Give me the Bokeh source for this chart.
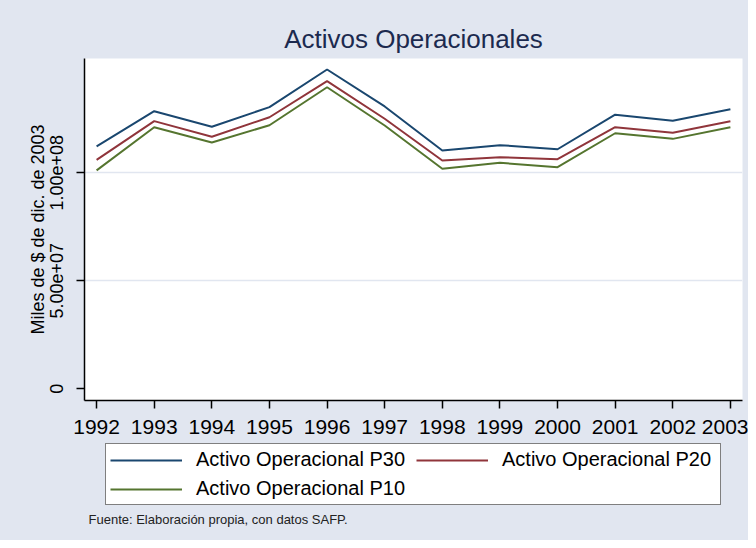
from bokeh.plotting import figure
from bokeh.models import Range1d, FixedTicker, Legend, LegendItem, Label
from bokeh.layouts import column
from bokeh.embed import file_html
from bokeh.resources import INLINE

# ---- data (values in pesos) ----
years = [1992, 1993, 1994, 1995, 1996, 1997, 1998, 1999, 2000, 2001, 2002, 2003]
p30 = [112.2e6, 128.5e6, 121.3e6, 130.4e6, 147.8e6, 130.7e6, 110.3e6, 112.8e6, 110.9e6, 126.9e6, 124.1e6, 129.4e6]
p20 = [106.0e6, 123.9e6, 116.7e6, 125.7e6, 142.4e6, 125.0e6, 105.7e6, 107.2e6, 106.3e6, 121.1e6, 118.5e6, 123.9e6]
p10 = [101.1e6, 121.1e6, 114.0e6, 122.0e6, 139.6e6, 121.9e6, 101.9e6, 104.6e6, 102.6e6, 118.3e6, 115.7e6, 121.1e6]
series_names = ["Activo Operacional P30", "Activo Operacional P20", "Activo Operacional P10"]
y_tick_values = [0, 50000000, 100000000]
y_tick_labels = ["0", "5.00e+07", "1.00e+08"]
title_text = "Activos Operacionales"
y_label = "Miles de $ de dic. de 2003"
note_text = "Fuente: Elaboración propia, con datos SAFP."

colors = ["#1a476f", "#90353b", "#55752f"]
BG = "#e1e6f0"
FONT = "Liberation Sans"

LEFT, FW, RIGHT = 84, 658, 6
TOP, FH, BOTTOM = 58, 342, 43

# ---------------- main chart ----------------
p = figure(frame_width=FW, frame_height=FH, output_backend="svg", toolbar_location=None,
           x_range=Range1d(1991.79, 2003.21), y_range=Range1d(-5.4e6, 152.9e6),
           min_border_left=LEFT, min_border_right=RIGHT, min_border_top=TOP, min_border_bottom=BOTTOM)
p.background_fill_color = "white"
p.border_fill_color = BG
p.outline_line_color = None

p.title.text = title_text
p.title.align = "center"
p.title.text_font = FONT
p.title.text_font_size = "26px"
p.title.text_font_style = "normal"
p.title.text_color = "#1c2a4f"
p.title.standoff = 10

for vals, c in zip([p30, p20, p10], colors):
    p.line(years, vals, line_color=c, line_width=2)

xa = p.xaxis[0]
xa.ticker = FixedTicker(ticks=years)
xa.major_label_text_font = FONT
xa.major_label_text_font_size = "21px"
xa.major_label_text_color = "black"
xa.major_tick_out = 8
xa.major_tick_in = 0
xa.major_tick_line_width = 1.5
xa.minor_tick_line_color = None
xa.axis_line_width = 1.5
xa.major_label_standoff = 11

ya = p.yaxis[0]
ya.ticker = FixedTicker(ticks=y_tick_values)
ya.major_label_overrides = {v: s for v, s in zip(y_tick_values, y_tick_labels)}
ya.major_label_orientation = "vertical"
ya.major_label_text_font = FONT
ya.major_label_text_font_size = "18px"
ya.major_label_text_color = "black"
ya.major_tick_out = 8
ya.major_tick_in = 0
ya.major_tick_line_width = 1.5
ya.minor_tick_line_color = None
ya.axis_line_width = 1.5
ya.major_label_standoff = 13
ya.axis_label = y_label
ya.axis_label_text_font = FONT
ya.axis_label_text_font_size = "18px"
ya.axis_label_text_font_style = "normal"
ya.axis_label_text_color = "black"
ya.axis_label_standoff = 0

p.xgrid.grid_line_color = None
p.ygrid.ticker = FixedTicker(ticks=y_tick_values[1:])
p.ygrid.grid_line_color = BG
p.ygrid.grid_line_width = 1.5

# ---------------- legend + note strip ----------------
Y0 = TOP + FH + BOTTOM          # page y where the strip starts
H2 = 540 - Y0
p2 = figure(frame_width=FW, frame_height=H2, output_backend="svg", toolbar_location=None,
            x_range=Range1d(LEFT, LEFT + FW), y_range=Range1d(H2, 0),
            x_axis_type=None, y_axis_type=None,
            min_border_left=LEFT, min_border_right=RIGHT, min_border_top=0, min_border_bottom=0)
p2.background_fill_color = None
p2.border_fill_color = None
p2.outline_line_color = None
p2.xgrid.grid_line_color = None
p2.ygrid.grid_line_color = None

items = []
for name, vals, c in zip(series_names, [p30, p20, p10], colors):
    r = p2.line(years, vals, line_color=c, line_width=2)
    items.append(LegendItem(label=name, renderers=[r]))

legend = Legend(items=items, ncols=2, orientation="horizontal", location=(105 - LEFT, H2 - 62))
legend.label_text_font = FONT
legend.label_text_font_size = "20px"
legend.label_text_color = "black"
legend.glyph_width = 72
legend.label_standoff = 14
legend.label_width = 214
legend.spacing = 6
legend.padding = 4
legend.margin = 0
legend.border_line_color = "black"
legend.border_line_width = 1.5
legend.background_fill_color = "white"
legend.background_fill_alpha = 1
p2.add_layout(legend, "center")

note = Label(x=88, y=519 - Y0, text=note_text, text_font=FONT, text_font_size="13px",
             text_color="#222222", text_baseline="middle", text_align="left")
p2.add_layout(note)

layout = column(p, p2, spacing=0, styles={"background-color": BG})
open("out.html", "w").write(file_html(layout, INLINE))
